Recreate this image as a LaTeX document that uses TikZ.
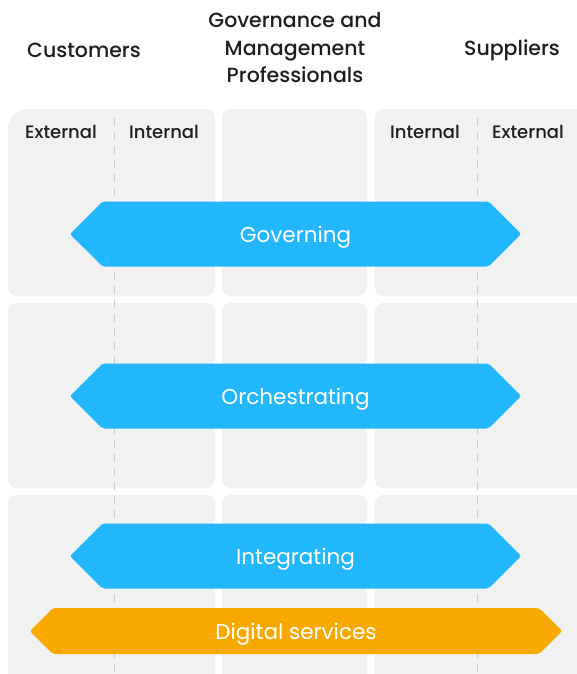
\documentclass[tikz,border=0pt]{standalone}
\usepackage{fontspec}
\setmainfont{Poppins}[UprightFont=* Medium]
\newfontfamily\bandfont{Poppins}
\usetikzlibrary{shapes.symbols}
\definecolor{panelgray}{HTML}{F1F1F1}
\definecolor{bandblue}{HTML}{23B7FF}
\definecolor{bandorange}{HTML}{F8A900}
\definecolor{inkdark}{HTML}{1E1E1E}
\definecolor{dashgray}{HTML}{CACACA}
\begin{document}
\begin{tikzpicture}[x=1pt,y=-1pt,line join=round]
            \tikzset{panel/.style={fill=panelgray,rounded corners=8pt},
              head/.style={font=\fontsize{20.5}{27.5}\selectfont,text=inkdark,align=center},
              side/.style={font=\fontsize{18}{22}\selectfont,text=inkdark},
              band/.style={signal,signal to=west and east,signal pointer angle=90,
                inner sep=0pt,minimum height=65pt,minimum width=451pt,fill=bandblue,
                text=white,text depth=0pt,font=\bandfont\fontsize{21.5}{25}\selectfont,rounded corners=2pt}}
            \def \pagewd{577}
            \def \pageht{674}
            \useasboundingbox (0,0) rectangle (\pagewd,\pageht);
            \clip (0,0) rectangle (\pagewd,\pageht);
            % grey cells, the first one gets a wider corner
            \foreach \ya/\yb in {303/488,495/690}
            \foreach \xa/\xb in {8/215,222/367,375/600}
            \fill[panel] (\xa,\ya) rectangle (\xb,\yb);
            \foreach \xa/\xb in {222/367,375/600}
            \fill[panel] (\xa,109) rectangle (\xb,296);
            \fill[panelgray] (8,128) [rounded corners=8pt] -- (8,296) -- (215,296) -- (215,109)
              -- (100,109) [sharp corners] -- (28,109) .. controls (17,109) and (8,118) .. (8,128) -- cycle;
            % external / internal split
            \draw[dashgray,line width=1pt,dash pattern=on 8pt off 6pt] (114,118)--(114,\pageht);
            \draw[dashgray,line width=1pt,dash pattern=on 8pt off 6pt] (477,118)--(477,\pageht);
            % column heads
            \node[head] (cust) at (84,50) {Customers};
            \node[head] (gov) at (295,48) {Governance and\\Management\\Professionals};
            \node[head] (supp) at (512,50) {Suppliers};
            \node[side] (custext) at (61,132) {External};
            \node[side] (custint) at (164,132) {Internal};
            \node[side] (suppint) at (425,132) {Internal};
            \node[side] (suppext) at (528,132) {External};
            % bands
            \node[band] (governing) at (295.5,234) {Governing};
            \node[band] (orchestrating) at (295.5,396) {Orchestrating};
            \node[band] (integrating) at (295.5,556) {Integrating};
            \node[band,fill=bandorange,minimum height=46pt,minimum width=532pt] (digital)
              at (296,631) {Digital services};
        \end{tikzpicture}
\end{document}
